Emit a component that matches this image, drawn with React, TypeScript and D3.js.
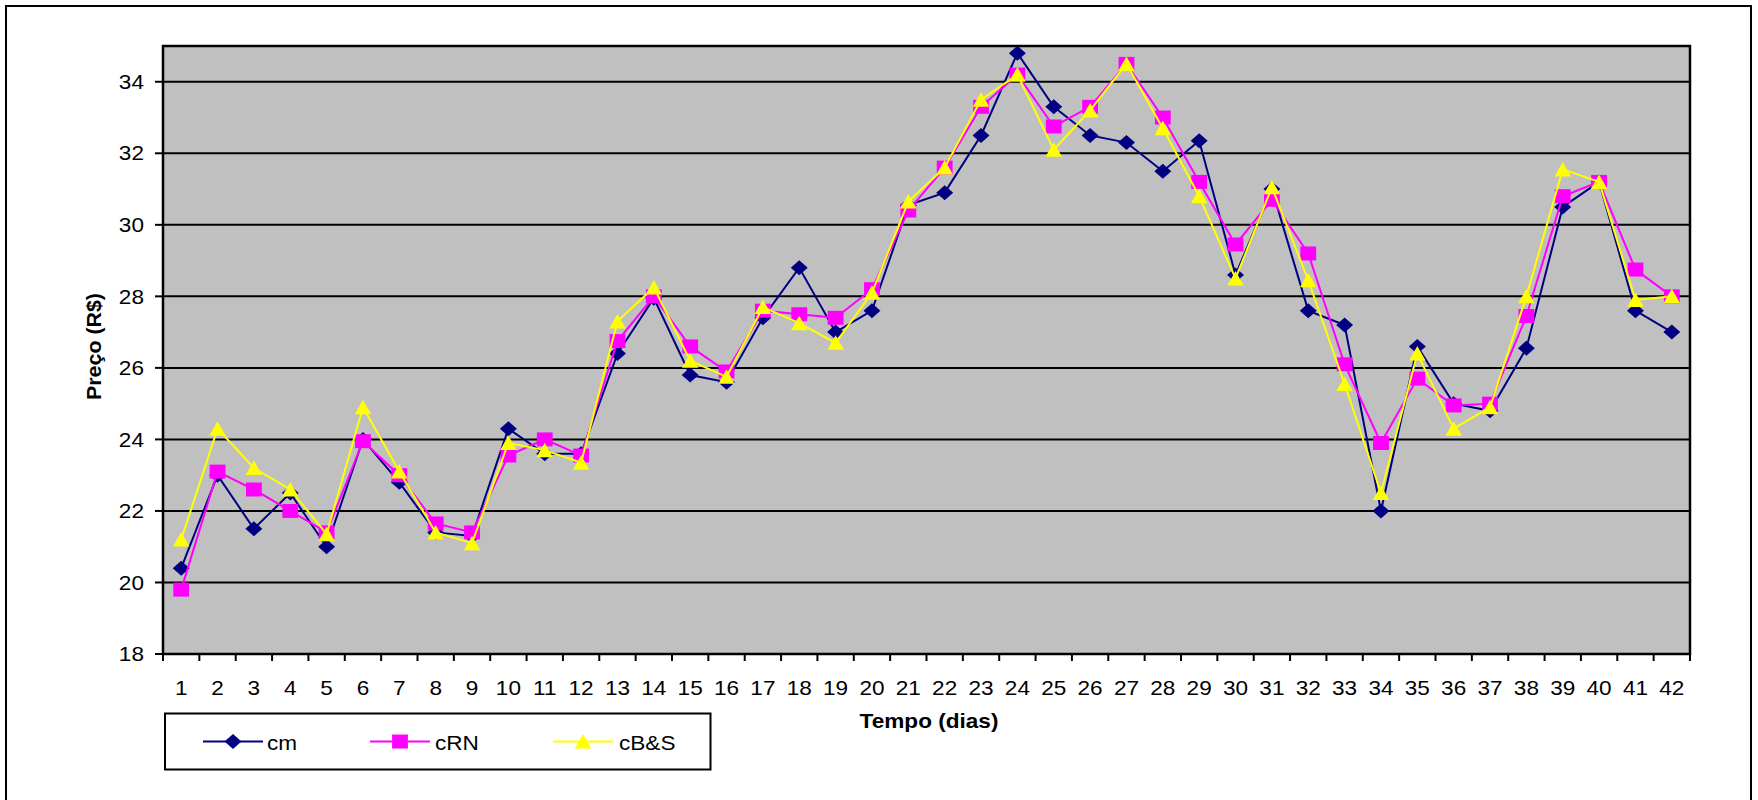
import React from "react";
import * as d3 from "d3";

// Trading days on the horizontal axis
const days = [
  1, 2, 3, 4, 5, 6, 7, 8, 9, 10, 11, 12, 13, 14, 15, 16, 17, 18, 19, 20, 21,
  22, 23, 24, 25, 26, 27, 28, 29, 30, 31, 32, 33, 34, 35, 36, 37, 38, 39, 40,
  41, 42,
];

// Observed market price
const cm = [
  20.4, 23.0, 21.5, 22.5, 21.0, 24.0, 22.8, 21.4, 21.3, 24.3, 23.6, 23.6,
  26.4, 27.95, 25.8, 25.6, 27.4, 28.8, 27.0, 27.6, 30.55, 30.9, 32.5, 34.8,
  33.3, 32.5, 32.3, 31.5, 32.35, 28.6, 31.0, 27.6, 27.2, 22.0, 26.6, 25.0,
  24.8, 26.55, 30.5, 31.2, 27.6, 27.0,
];

// Neural network price
const cRN = [
  19.8, 23.1, 22.6, 22.0, 21.4, 23.95, 23.0, 21.65, 21.4, 23.55, 24.0, 23.55,
  26.75, 28.0, 26.6, 25.9, 27.6, 27.5, 27.4, 28.2, 30.4, 31.6, 33.3, 34.2,
  32.75, 33.3, 34.5, 33.0, 31.2, 29.45, 30.7, 29.2, 26.1, 23.9, 25.7, 24.95,
  25.0, 27.45, 30.8, 31.2, 28.75, 28.0,
];

// Black & Scholes price
const cBS = [
  21.2, 24.3, 23.2, 22.6, 21.35, 24.9, 23.1, 21.4, 21.1, 23.9, 23.7, 23.35,
  27.3, 28.25, 26.2, 25.75, 27.7, 27.25, 26.7, 28.1, 30.65, 31.6, 33.5, 34.2,
  32.1, 33.2, 34.5, 32.7, 30.8, 28.5, 31.05, 28.45, 25.55, 22.5, 26.4, 24.3,
  24.9, 28.0, 31.55, 31.2, 27.9, 28.0,
];

const yTicks = [18, 20, 22, 24, 26, 28, 30, 32, 34];

const W = 1758;
const H = 800;
const plot = { left: 163, right: 1690, top: 46, bottom: 654 };
const SX = 1.13; // horizontal stretch of text and markers
const FONT = "'Liberation Sans', Arial, sans-serif";

type Shape = "diamond" | "square" | "triangle";

const markerPath: Record<Shape, string> = {
  diamond: "M0,-7.5L7.5,0L0,7.5L-7.5,0Z",
  square: "M-7,-7H7V7H-7Z",
  triangle: "M0,-7.5L7.3,7L-7.3,7Z",
};

const series: { name: string; values: number[]; color: string; shape: Shape }[] = [
  { name: "cm", values: cm, color: "#000080", shape: "diamond" },
  { name: "cRN", values: cRN, color: "#FF00FF", shape: "square" },
  { name: "cB&S", values: cBS, color: "#FFFF00", shape: "triangle" },
];

function Marker({ x, y, shape, color }: { x: number; y: number; shape: Shape; color: string }) {
  return (
    <path
      d={markerPath[shape]}
      transform={`translate(${x},${y}) scale(${SX},1)`}
      fill={color}
      stroke="none"
    />
  );
}

function Label({
  x,
  y,
  children,
  anchor = "start",
  bold = false,
  size = 20,
  transform,
}: {
  x: number;
  y: number;
  children: React.ReactNode;
  anchor?: "start" | "middle" | "end";
  bold?: boolean;
  size?: number;
  transform?: string;
}) {
  return (
    <g transform={`translate(${x},${y}) ${transform ?? `scale(${SX},1)`}`}>
      <text
        x={0}
        y={0}
        textAnchor={anchor}
        fontFamily={FONT}
        fontSize={size}
        fontWeight={bold ? "bold" : "normal"}
        fill="#000"
      >
        {children}
      </text>
    </g>
  );
}

export default function App() {
  const x = d3
    .scaleBand<number>()
    .domain(days)
    .range([plot.left, plot.right])
    .padding(0);
  const y = d3.scaleLinear().domain([18, 35]).range([plot.bottom, plot.top]);
  const cx = (d: number) => (x(d) as number) + x.bandwidth() / 2;

  const line = d3
    .line<number>()
    .x((_, i) => cx(days[i]))
    .y((v) => y(v));

  const tickEdges = days.map((d) => x(d) as number).concat([plot.right]);

  const legendItems = [
    { s: series[0], lineX: 203, textX: 267 },
    { s: series[1], lineX: 370, textX: 435 },
    { s: series[2], lineX: 553, textX: 619 },
  ];
  const legendY = 741.5;

  return (
    <svg
      width={W}
      height={H}
      style={{ position: "absolute", left: 0, top: 0, background: "#fff" }}
    >
      {/* outer chart frame */}
      <rect x={6} y={6} width={1745} height={H + 10} fill="#fff" stroke="#000" strokeWidth={2} />

      {/* plot area */}
      <rect
        x={plot.left}
        y={plot.top}
        width={plot.right - plot.left}
        height={plot.bottom - plot.top}
        fill="#C0C0C0"
      />

      {/* horizontal gridlines */}
      {yTicks.slice(1).map((t) => (
        <line key={t} x1={plot.left} x2={plot.right} y1={y(t)} y2={y(t)} stroke="#000" strokeWidth={2} />
      ))}

      {/* plot border */}
      <rect
        x={plot.left}
        y={plot.top}
        width={plot.right - plot.left}
        height={plot.bottom - plot.top}
        fill="none"
        stroke="#000"
        strokeWidth={2.5}
      />

      {/* y axis ticks and labels */}
      {yTicks.map((t) => (
        <g key={t}>
          <line x1={plot.left - 8} x2={plot.left} y1={y(t)} y2={y(t)} stroke="#000" strokeWidth={2} />
          <Label x={144} y={y(t) + 7.2} anchor="end">
            {t}
          </Label>
        </g>
      ))}

      {/* x axis ticks and labels */}
      {tickEdges.map((e, i) => (
        <line key={i} x1={e} x2={e} y1={plot.bottom} y2={plot.bottom + 7} stroke="#000" strokeWidth={2} />
      ))}
      {days.map((d) => (
        <Label key={d} x={cx(d)} y={694.5} anchor="middle">
          {d}
        </Label>
      ))}

      {/* series */}
      {series.map((s) => (
        <g key={s.name}>
          <path d={line(s.values) || ""} fill="none" stroke={s.color} strokeWidth={2} />
          {s.values.map((v, i) => (
            <Marker key={i} x={cx(days[i])} y={y(v)} shape={s.shape} color={s.color} />
          ))}
        </g>
      ))}

      {/* axis titles */}
      <Label x={929} y={727.5} anchor="middle" bold size={20}>
        Tempo (dias)
      </Label>
      <Label x={101} y={346.5} anchor="middle" bold size={20} transform="rotate(-90) scale(1.07,1.05)">
        Preço (R$)
      </Label>

      {/* legend */}
      <rect x={165} y={713.5} width={545.5} height={56} fill="#fff" stroke="#000" strokeWidth={2} />
      {legendItems.map(({ s, lineX, textX }) => (
        <g key={s.name}>
          <line x1={lineX} x2={lineX + 60} y1={legendY} y2={legendY} stroke={s.color} strokeWidth={2} />
          <Marker x={lineX + 30} y={legendY} shape={s.shape} color={s.color} />
          <Label x={textX} y={legendY + 8}>
            {s.name}
          </Label>
        </g>
      ))}
    </svg>
  );
}
